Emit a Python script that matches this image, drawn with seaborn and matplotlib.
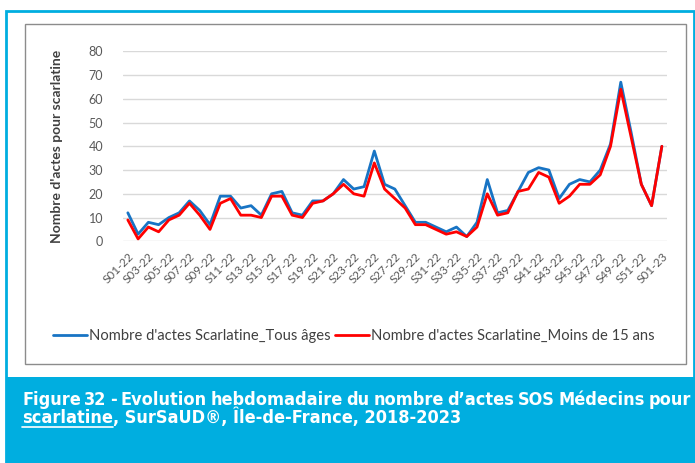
# Evolution hebdomadaire des actes SOS Médecins pour scarlatine (Île-de-France)
import numpy as np
import pandas as pd
import matplotlib
matplotlib.use('Agg')
import matplotlib.pyplot as plt
from matplotlib import font_manager
from matplotlib.patches import Rectangle
from matplotlib.lines import Line2D
import seaborn as sns

# Semaines S01-22 ... S52-22, S01-23
semaines = ['S%02d-22' % s for s in range(1, 53)] + ['S01-23']
tous_ages = [12, 3, 8, 7, 10, 12, 17, 13, 7, 19, 19, 14, 15, 11, 20, 21, 12, 11, 17, 17,
             20, 26, 22, 23, 38, 24, 22, 15, 8, 8, 6, 4, 6, 2, 8, 26, 12, 13, 21, 29,
             31, 30, 18, 24, 26, 25, 30, 41, 67, 46, 24, 15, 40]
moins_15 = [9, 1, 6, 4, 9, 11, 16, 11, 5, 16, 18, 11, 11, 10, 19, 19, 11, 10, 16, 17,
            20, 24, 20, 19, 33, 22, 18, 14, 7, 7, 5, 3, 4, 2, 6, 20, 11, 12, 21, 22,
            29, 27, 16, 19, 24, 24, 28, 40, 64, 44, 24, 15, 40]
series = ["Nombre d'actes Scarlatine_Tous âges", "Nombre d'actes Scarlatine_Moins de 15 ans"]
titre_l1 = ['Figure', '32', '-', 'Evolution', 'hebdomadaire', 'du', 'nombre', 'd’actes',
            'SOS', 'Médecins', 'pour']
titre_l2_souligne = 'scarlatine'
titre_l2_suite = ', SurSaUD®, Île-de-France, 2018-2023'

df = pd.DataFrame({
    'semaine': semaines * 2,
    'pos': list(range(len(semaines))) * 2,
    'serie': [series[0]] * len(semaines) + [series[1]] * len(semaines),
    'valeur': tous_ages + moins_15,
})

sns.set_theme(style='white')
noms = {f.name for f in font_manager.fontManager.ttflist}
police = 'Lato' if 'Lato' in noms else 'DejaVu Sans'
condense = [f for f in font_manager.fontManager.ttflist
            if f.name == 'DejaVu Sans' and 'ondensed' in f.fname and f.weight in ('bold', 700)]
plt.rcParams['font.family'] = [police, 'DejaVu Sans']

bleu_cadre = '#00AEE0'
W, H = 695, 463
fig = plt.figure(figsize=(W / 100, H / 100), dpi=100)

# cadre bleu et zone de légende bleue
fig.patches.append(Rectangle((6 / W, 0), (694 - 6) / W, 1 - 11 / H, transform=fig.transFigure,
                             fill=False, edgecolor=bleu_cadre, lw=2, zorder=0))
fig.patches.append(Rectangle((6 / W, 0), (694 - 6) / W, 1 - 377 / H, transform=fig.transFigure,
                             facecolor=bleu_cadre, edgecolor='none', zorder=0))
# boîte grise du graphique
fig.patches.append(Rectangle((25 / W, 1 - 364 / H), (686 - 25) / W, (364 - 24) / H,
                             transform=fig.transFigure, fill=False, edgecolor='#8C8C8C', lw=1, zorder=0))

ax = fig.add_axes([122.7 / W, 1 - 241.3 / H, (667 - 122.7) / W, (241.3 - 51.3) / H])
ax.patch.set_alpha(0)
sns.lineplot(data=df, x='pos', y='valeur', hue='serie', palette=['#1874C4', '#FF0000'],
             lw=2.0, ax=ax, legend=False, sort=False)

ax.set_xlim(-0.5, len(semaines) - 0.5)
ax.set_ylim(0, 80)
ax.set_yticks(range(0, 81, 10))
ax.yaxis.grid(True, color='#D9D9D9', lw=1)
ax.set_axisbelow(True)
for s in ax.spines.values():
    s.set_visible(False)
ax.tick_params(axis='y', length=0, pad=14, labelsize=9, labelcolor='#595959')
ax.set_xticks(range(0, len(semaines), 2))
ax.set_xticklabels(semaines[::2], rotation=45, ha='right', rotation_mode='anchor')
ax.tick_params(axis='x', length=0, pad=7, labelsize=8.5, labelcolor='#595959')
ax.set_xlabel('')
ax.set_ylabel("Nombre d'actes pour scarlatine", fontsize=10, fontweight='bold', color='#404040')
ax.yaxis.set_label_coords(-0.11, 0.5)

handles = [Line2D([], [], color='#1874C4', lw=2), Line2D([], [], color='#FF0000', lw=2)]
fig.legend(handles, series, loc='center', bbox_to_anchor=(354 / W, 1 - 336 / H), ncol=2,
           frameon=False, fontsize=10.6, handlelength=2.3, handletextpad=0.15, columnspacing=0.3,
           labelcolor='#404040')

# titre justifié en blanc
fig.canvas.draw()
rend = fig.canvas.get_renderer()
if condense:
    kw = dict(color='white', fontweight='bold', family='DejaVu Sans', fontstretch='condensed')
else:
    kw = dict(color='white', fontweight='bold', family='Roboto')
gauche, droite = 22, 691
taille = 13
while True:
    mots = [fig.text(0, 1 - 405 / H, m, ha='left', va='baseline', fontsize=taille, **kw)
            for m in titre_l1]
    largeurs = [t.get_window_extent(rend).width for t in mots]
    espace = (droite - gauche - sum(largeurs)) / (len(mots) - 1)
    if espace >= taille * 0.28 or taille <= 9:
        break
    for t in mots:
        t.remove()
    taille -= 0.25
x = gauche
for t, w in zip(mots, largeurs):
    t.set_x(x / W)
    x += w + espace

y2 = 1 - 423 / H
t1 = fig.text(22 / W, y2, titre_l2_souligne, ha='left', va='baseline', fontsize=taille, **kw)
w1 = t1.get_window_extent(rend).width
fig.text((22 + w1) / W, y2, titre_l2_suite, ha='left', va='baseline', fontsize=taille, **kw)
fig.add_artist(Line2D([22 / W, (22 + w1) / W], [1 - 427 / H] * 2, color='white', lw=1.2))

fig.savefig('out.png', dpi=100)
